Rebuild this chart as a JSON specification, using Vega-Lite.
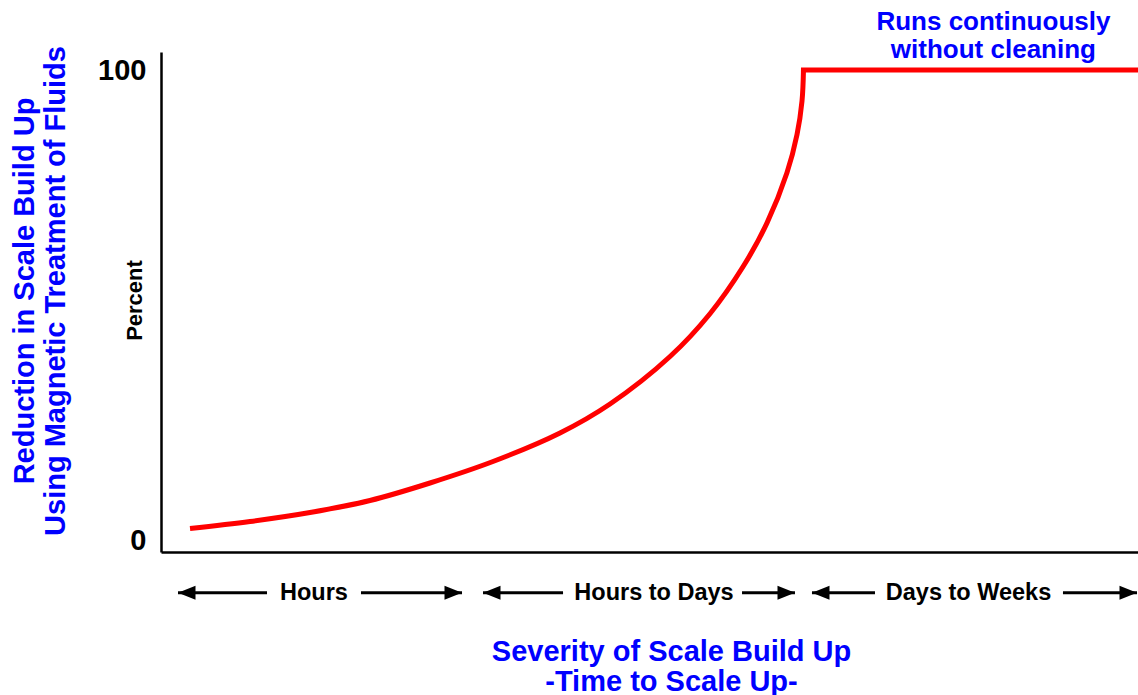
{
  "$schema": "https://vega.github.io/schema/vega-lite/v6.json",
  "width": 977,
  "height": 500,
  "autosize": "none",
  "padding": {"left": 161, "top": 52, "right": 0, "bottom": 143},
  "background": "white",
  "config": {"view": {"stroke": null}, "font": "Liberation Sans"},
  "title": {
    "text": ["Reduction in Scale Build Up", "Using Magnetic Treatment of Fluids"],
    "orient": "left",
    "anchor": "middle",
    "color": "#0000FF",
    "font": "Liberation Sans",
    "fontSize": 29,
    "fontWeight": "bold",
    "lineHeight": 31,
    "offset": 27,
    "dx": 11
  },
  "datasets": {
    "curve": [
      {"part": "rise", "x": 2.97, "y": 2.45},
      {"part": "rise", "x": 9.11, "y": 3.94},
      {"part": "rise", "x": 15.25, "y": 5.85},
      {"part": "rise", "x": 21.39, "y": 8.4},
      {"part": "rise", "x": 27.53, "y": 12.13},
      {"part": "rise", "x": 33.98, "y": 16.7},
      {"part": "rise", "x": 40.84, "y": 22.77},
      {"part": "rise", "x": 45.96, "y": 28.94},
      {"part": "rise", "x": 52.1, "y": 39.04},
      {"part": "rise", "x": 56.19, "y": 48.15},
      {"part": "rise", "x": 59.57, "y": 58.13},
      {"part": "rise", "x": 62.03, "y": 67.47},
      {"part": "rise", "x": 64.07, "y": 78.13},
      {"part": "rise", "x": 65.1, "y": 86.28},
      {"part": "rise", "x": 65.61, "y": 93.4},
      {"part": "rise", "x": 65.76, "y": 100},
      {"part": "plateau", "x": 65.76, "y": 100},
      {"part": "plateau", "x": 100, "y": 100}
    ],
    "bands": [
      {"label": "Hours", "tipL": 1.74, "lineL": 10.85, "mid": 15.66, "lineR": 20.47, "tipR": 30.81},
      {"label": "Hours to Days", "tipL": 32.96, "lineL": 41.15, "mid": 50.46, "lineR": 59.47, "tipR": 64.89},
      {"label": "Days to Weeks", "tipL": 66.63, "lineL": 73.08, "mid": 82.65, "lineR": 92.32, "tipR": 99.9}
    ]
  },
  "layer": [
    {
      "data": {"name": "curve"},
      "transform": [{"filter": "datum.part === 'rise'"}],
      "mark": {"type": "line", "color": "#FF0000", "strokeWidth": 5, "interpolate": "catmull-rom"},
      "encoding": {
        "x": {
          "field": "x",
          "type": "quantitative",
          "scale": {"domain": [0, 100], "nice": false, "zero": false},
          "axis": {
            "title": ["Severity of Scale Build Up", "-Time to Scale Up-"],
            "labels": false,
            "ticks": false,
            "tickSize": 0,
            "grid": false,
            "domainColor": "#000000",
            "domainWidth": 2.5,
            "titleColor": "#0000FF",
            "titleFont": "Liberation Sans",
            "titleFontSize": 29,
            "titleFontWeight": "bold",
            "titleLineHeight": 30,
            "titleX": 510,
            "titleY": 108,
            "titleAlign": "center",
            "titleBaseline": "alphabetic"
          }
        },
        "y": {
          "field": "y",
          "type": "quantitative",
          "scale": {"domain": [-2.55, 103.83], "nice": false, "zero": false},
          "axis": {
            "values": [0, 100],
            "title": "Percent",
            "titleColor": "#000000",
            "titleFont": "Liberation Sans",
            "titleFontSize": 22,
            "titleFontWeight": "bold",
            "titleAngle": 270,
            "titleX": -27,
            "titleY": 248,
            "titleAlign": "center",
            "titleBaseline": "middle",
            "labelFont": "Liberation Sans",
            "labelFontSize": 29,
            "labelFontWeight": "bold",
            "labelColor": "#000000",
            "labelPadding": 15,
            "ticks": false,
            "tickSize": 0,
            "grid": false,
            "domainColor": "#000000",
            "domainWidth": 2.5
          }
        }
      }
    },
    {
      "data": {"name": "curve"},
      "transform": [{"filter": "datum.part === 'plateau'"}],
      "mark": {"type": "line", "color": "#FF0000", "strokeWidth": 5, "strokeCap": "square"},
      "encoding": {
        "x": {"field": "x", "type": "quantitative"},
        "y": {"field": "y", "type": "quantitative"}
      }
    },
    {
      "data": {"name": "bands"},
      "mark": {"type": "rule", "color": "#000000", "strokeWidth": 3},
      "encoding": {
        "x": {"field": "tipL", "type": "quantitative"},
        "x2": {"field": "lineL"},
        "y": {"datum": -11.2}
      }
    },
    {
      "data": {"name": "bands"},
      "mark": {"type": "rule", "color": "#000000", "strokeWidth": 3},
      "encoding": {
        "x": {"field": "lineR", "type": "quantitative"},
        "x2": {"field": "tipR"},
        "y": {"datum": -11.2}
      }
    },
    {
      "data": {"name": "bands"},
      "mark": {"type": "point", "shape": "M0,0 L1,-0.4 L1,0.4 Z", "size": 1225, "filled": true, "color": "#000000", "opacity": 1, "strokeWidth": 0},
      "encoding": {
        "x": {"field": "tipL", "type": "quantitative"},
        "y": {"datum": -11.2}
      }
    },
    {
      "data": {"name": "bands"},
      "mark": {"type": "point", "shape": "M0,0 L-1,-0.4 L-1,0.4 Z", "size": 1225, "filled": true, "color": "#000000", "opacity": 1, "strokeWidth": 0},
      "encoding": {
        "x": {"field": "tipR", "type": "quantitative"},
        "y": {"datum": -11.2}
      }
    },
    {
      "data": {"name": "bands"},
      "mark": {"type": "text", "font": "Liberation Sans", "fontSize": 23.5, "fontWeight": "bold", "color": "#000000", "align": "center", "baseline": "middle"},
      "encoding": {
        "x": {"field": "mid", "type": "quantitative"},
        "y": {"datum": -11.2},
        "text": {"field": "label"}
      }
    },
    {
      "data": {"values": [{"note": "Runs continuously\nwithout cleaning"}]},
      "mark": {"type": "text", "font": "Liberation Sans", "fontSize": 26, "fontWeight": "bold", "color": "#0000FF", "align": "center", "baseline": "alphabetic", "lineBreak": "\n", "lineHeight": 28},
      "encoding": {
        "x": {"datum": 85.2},
        "y": {"datum": 108.6},
        "text": {"field": "note"}
      }
    }
  ]
}
